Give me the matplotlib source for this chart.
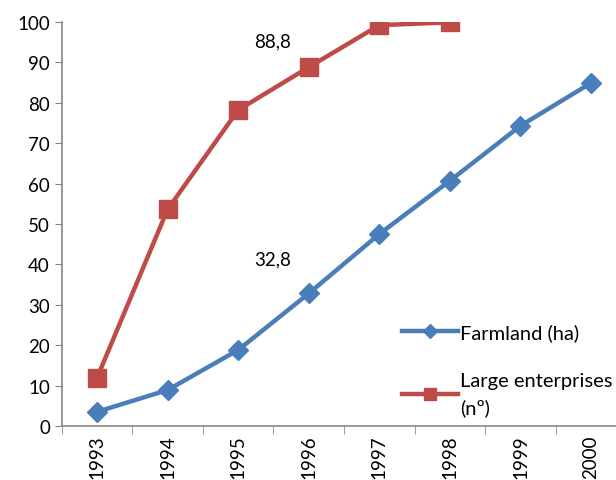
import matplotlib.pyplot as plt

plt.rcParams["font.family"] = ["Lato", "DejaVu Sans"]

years = ["1993", "1994", "1995", "1996", "1997", "1998", "1999", "2000"]
farmland = [3.5, 8.9, 18.8, 32.8, 47.5, 60.7, 74.3, 84.9]
large_ent = [11.9, 53.6, 78.2, 88.8, 99.2, 99.9]

fig = plt.figure(figsize=(6.16, 4.81), dpi=100)
ax = fig.add_axes([0.1002, 0.1123, 0.9166, 0.840])

x_farm = list(range(len(farmland)))
x_large = list(range(len(large_ent)))

ax.plot(x_farm, farmland, color="#4A7EBB", lw=3.2, marker="D", markersize=10,
        label="Farmland (ha)", zorder=3)
ax.plot(x_large, large_ent, color="#BE4B48", lw=3.2, marker="s", markersize=13,
        label="Large enterprises\n(nº)", zorder=3)

# data labels
ax.annotate("88,8", (3, large_ent[3]), xytext=(-26, 19), textcoords="offset points",
            ha="center", va="center", fontsize=13.5)
ax.annotate("32,8", (3, farmland[3]), xytext=(-26, 25), textcoords="offset points",
            ha="center", va="center", fontsize=13.5)

ax.set_xlim(-0.5, 7.5)
ax.set_ylim(0, 100)
ax.set_yticks(range(0, 101, 10))
ax.set_xticks(x_farm)
ax.set_xticklabels(years, rotation=90)
ax.set_xticks([i - 0.5 for i in range(len(years) + 1)], minor=True)
ax.tick_params(axis="x", which="major", length=0, labelsize=13.5, pad=6)
ax.tick_params(axis="x", which="minor", length=6, color="#868686")
ax.tick_params(axis="y", length=5, color="#868686", labelsize=13.5)

for s in ["top", "right"]:
    ax.spines[s].set_visible(False)
for s in ["left", "bottom"]:
    ax.spines[s].set_color("#868686")
    ax.spines[s].set_linewidth(1.2)

leg = ax.legend(loc="upper left", bbox_to_anchor=(0.57, 0.30), frameon=False,
                fontsize=14.5, handlelength=2.8, handletextpad=0.1,
                labelspacing=1.55, markerscale=0.7)
for t in leg.get_texts():
    t.set_linespacing(1.65)

fig.savefig("out.png", dpi=100)
